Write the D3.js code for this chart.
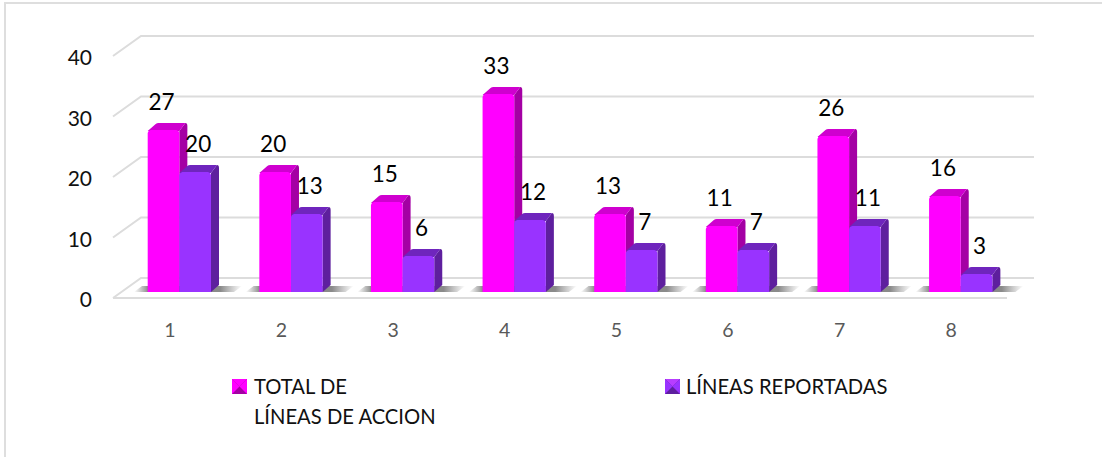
<!DOCTYPE html>
<html>
<head>
<meta charset="utf-8">
<script src="https://cdn.jsdelivr.net/npm/d3@7"></script>
<style>
  html, body { margin: 0; background: #fff; }
  text { font-family: Lato, "Noto Sans", sans-serif; }
</style>
</head>
<body>
<div id="chart"></div>
<script>
const categories = ['1', '2', '3', '4', '5', '6', '7', '8'];
const seriesNames = ['TOTAL DE LÍNEAS DE ACCION', 'LÍNEAS REPORTADAS'];
const totalLineas = [27, 20, 15, 33, 13, 11, 26, 16];
const lineasReportadas = [20, 13, 6, 12, 7, 7, 11, 3];
const yTicks = [0, 10, 20, 30, 40];

const width = 1102, height = 457;
const svg = d3.select('#chart').append('svg').attr('width', width).attr('height', height).style('display', 'block');

// the picture only has a frame on its top and left side
svg.append('path').attr('d', `M5,${height}L5,3L${width},3`)
  .attr('fill', 'none').attr('stroke', '#dedede').attr('stroke-width', 2);

const x = d3.scaleBand().domain(categories).range([114, 1007]);
const xInner = d3.scaleBand().domain(seriesNames).range([33.7, 97]);
const y = d3.scaleLinear().domain([0, 40]).range([292, 52]);       // bar heights
const yWall = d3.scaleLinear().domain([0, 40]).range([298, 56]);   // front edge of the grid

const depthX = 8, depthY = 7;   // bar depth
const wallX = 28, wallY = 20;   // grid depth

const defs = svg.append('defs');
const shade = defs.append('linearGradient').attr('id', 'shadow');
shade.append('stop').attr('offset', '0').attr('stop-color', '#999').attr('stop-opacity', 0);
shade.append('stop').attr('offset', '0.13').attr('stop-color', '#8a8a8a');
shade.append('stop').attr('offset', '0.8').attr('stop-color', '#8a8a8a');
shade.append('stop').attr('offset', '1').attr('stop-color', '#999').attr('stop-opacity', 0);

// grid lines: side wall + back wall
const grid = svg.append('g').attr('fill', 'none').attr('stroke', '#dcdcdc').attr('stroke-width', 2);
yTicks.forEach(t => {
  const py = yWall(t);
  grid.append('path').attr('d', `M113,${py}L${113 + wallX},${py - wallY}L1034,${py - wallY}`);
});
// floor front edge
grid.append('path').attr('d', `M113,${yWall(0)}L1007,${yWall(0)}`);

// floor shadows behind each group
svg.append('g').selectAll('path').data(categories).join('path')
  .attr('d', d => `M${x(d) + 20},292L${x(d) + 28},286L${x(d) + 128},286L${x(d) + 120},292Z`)
  .attr('fill', 'url(#shadow)');

const colors = [
  { front: '#ff00ff', side: '#a400a4', top: '#cf00cf' },
  { front: '#9933ff', side: '#5e1f9e', top: '#6f25bd' }
];
const values = [totalLineas, lineasReportadas];

function drawBar(g, x0, w, top, base, c) {
  g.append('path').attr('fill', c.side)
    .attr('d', `M${x0 + w},${top + 1}L${x0 + w + depthX - 2},${top - depthY}Q${x0 + w + depthX},${top - depthY} ${x0 + w + depthX},${top - depthY + 3}L${x0 + w + depthX},${base - depthY}L${x0 + w},${base}Z`);
  g.append('path').attr('fill', c.top)
    .attr('d', `M${x0},${top + 1}L${x0 + depthX},${top - depthY + 1}Q${x0 + depthX + 1},${top - depthY} ${x0 + depthX + 3},${top - depthY}L${x0 + w + depthX - 2},${top - depthY}L${x0 + w},${top + 1}Z`);
  g.append('path').attr('fill', c.front)
    .attr('d', `M${x0},${top + 3}Q${x0},${top + 1} ${x0 + 3},${top}L${x0 + w - 3},${top}Q${x0 + w},${top + 1} ${x0 + w},${top + 3}L${x0 + w},${base}L${x0},${base}Z`);
}

seriesNames.forEach((name, s) => {
  const g = svg.append('g');
  categories.forEach((cat, i) => {
    const bx = x(cat) + xInner(name);
    drawBar(g, bx, xInner.bandwidth(), y(values[s][i]), y(0), colors[s]);
  });
});

// value labels go on top of everything
seriesNames.forEach((name, s) => {
  svg.append('g').selectAll('text').data(values[s]).join('text')
    .attr('x', (d, i) => x(categories[i]) + xInner(name) + xInner.bandwidth() / 2 + (s ? 3 : -2))
    .attr('y', d => y(d) - 20)
    .attr('text-anchor', 'middle')
    .attr('font-size', 22.5)
    .attr('fill', '#000')
    .text(d => d);
});

// y axis labels
svg.append('g').selectAll('text').data(yTicks).join('text')
  .attr('x', 92).attr('y', d => yWall(d) + 9)
  .attr('text-anchor', 'end')
  .attr('font-size', 21)
  .attr('fill', '#111')
  .text(d => d);

// x axis labels
svg.append('g').selectAll('text').data(categories).join('text')
  .attr('x', d => x(d) + x.bandwidth() / 2)
  .attr('y', 337)
  .attr('text-anchor', 'middle')
  .attr('font-size', 19.5)
  .attr('fill', '#595959')
  .text(d => d);

// legend
function swatch(px, py, s, c) {
  const g = svg.append('g');
  const cx = px + s / 2, cy = py + s / 2;
  g.append('rect').attr('x', px).attr('y', py).attr('width', s).attr('height', s).attr('fill', c.side);
  g.append('path').attr('d', `M${px},${py}L${px + s},${py}L${cx},${cy}Z`).attr('fill', d3.color(c.front).brighter(0.5));
  g.append('path').attr('d', `M${px},${py}L${cx},${cy}L${px},${py + s}Z`).attr('fill', c.front);
  g.append('path').attr('d', `M${px + s},${py}L${cx},${cy}L${px + s},${py + s}Z`).attr('fill', c.front);
}
swatch(232, 379, 15, colors[0]);
swatch(665, 379, 15, colors[1]);

const legendText = svg.append('g').attr('font-size', 20.2).attr('fill', '#111');
legendText.append('text').attr('x', 254).attr('y', 394).text('TOTAL DE');
legendText.append('text').attr('x', 254).attr('y', 424).text('LÍNEAS DE ACCION');
legendText.append('text').attr('x', 686).attr('y', 394).text(seriesNames[1]);
</script>
</body>
</html>
